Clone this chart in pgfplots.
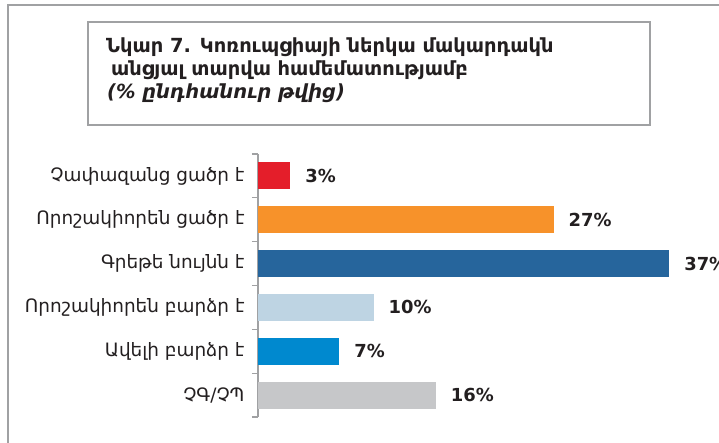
\documentclass[border=0pt]{standalone}
\usepackage{fontspec}
\setmainfont{DejaVu Sans}
\usepackage{pgfplots}
\pgfplotsset{compat=1.18}
\definecolor{cred}{RGB}{228,30,42}
\definecolor{corange}{RGB}{247,146,42}
\definecolor{cdblue}{RGB}{38,101,156}
\definecolor{clblue}{RGB}{190,212,227}
\definecolor{cblue}{RGB}{0,137,207}
\definecolor{cgray}{RGB}{198,199,201}
\definecolor{framegray}{RGB}{160,161,163}
\definecolor{txt}{RGB}{35,31,32}
\begin{document}
\begin{tikzpicture}
\path[use as bounding box] (0bp,0bp) rectangle (719bp,443bp);
\fill[white] (0bp,0bp) rectangle (719bp,443bp);
\draw[framegray, line width=2.5bp] (8bp,0bp) -- (8bp,438bp) -- (719bp,438bp);
\draw[framegray, line width=2.5bp] (88bp,318bp) rectangle (650bp,421bp);
\node[anchor=base west, inner sep=0pt, text=txt, font=\bfseries\fontsize{19.5}{22}\selectfont] at (106bp,390bp) {Նկար 7. Կոռուպցիայի ներկա մակարդակն};
\node[anchor=base west, inner sep=0pt, text=txt, font=\bfseries\fontsize{19.5}{22}\selectfont] at (111bp,367bp) {անցյալ տարվա համեմատությամբ};
\node[anchor=base west, inner sep=0pt, text=txt, font=\bfseries\itshape\fontsize{19.5}{22}\selectfont] at (107bp,344bp) {(\% ընդհանուր թվից)};
\begin{axis}[
  at={(258bp,26bp)}, anchor=south west,
  scale only axis, width=444.4bp, height=263bp,
  xmin=0, xmax=40, ymin=-0.5, ymax=5.5, y dir=reverse,
  xbar, bar width=27bp,
  axis x line=none, axis y line=left,
  axis line style={-, draw=framegray, line width=1.5bp},
  ytick={0,...,5},
  yticklabels={Չափազանց ցածր է, Որոշակիորեն ցածր է, Գրեթե նույնն է, Որոշակիորեն բարձր է, Ավելի բարձր է, ՉԳ/ՉՊ},
  major tick length=0pt,
  minor ytick={-0.5,0.5,...,5.5},
  minor tick length=6bp, tick align=outside,
  minor tick style={draw=framegray, line width=1.2bp},
  yticklabel style={font=\fontsize{18.5}{21}\selectfont, text=txt, xshift=-10bp},
  point meta=explicit symbolic,
  nodes near coords={\pgfplotspointmeta},
  nodes near coords style={anchor=west, inner sep=0pt, xshift=15bp, text=txt, font=\bfseries\fontsize{18}{20}\selectfont},
]
\addplot[fill=cred, draw=none, bar shift=0pt] coordinates {(2.9,0) [3\%]};
\addplot[fill=corange, draw=none, bar shift=0pt] coordinates {(26.6,1) [27\%]};
\addplot[fill=cdblue, draw=none, bar shift=0pt] coordinates {(37.0,2) [37\%]};
\addplot[fill=clblue, draw=none, bar shift=0pt] coordinates {(10.4,3) [10\%]};
\addplot[fill=cblue, draw=none, bar shift=0pt] coordinates {(7.3,4) [7\%]};
\addplot[fill=cgray, draw=none, bar shift=0pt] coordinates {(16.0,5) [16\%]};
\end{axis}
\end{tikzpicture}
\end{document}
